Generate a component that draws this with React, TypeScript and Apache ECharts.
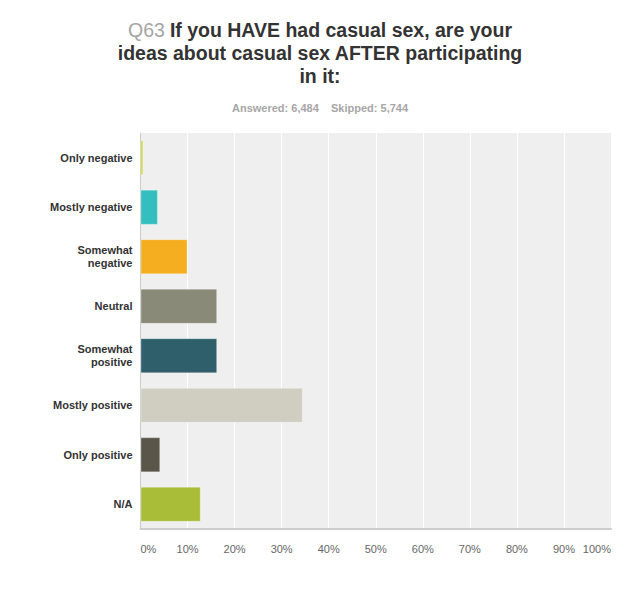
import React, { useEffect, useRef } from "react";
import * as echarts from "echarts";

const categories = [
  "Only negative",
  "Mostly negative",
  "Somewhat\nnegative",
  "Neutral",
  "Somewhat\npositive",
  "Mostly positive",
  "Only positive",
  "N/A",
];
const values = [0.6, 3.7, 10.0, 16.3, 16.3, 34.5, 4.2, 12.8];
const colors = [
  "#cfd832",
  "#33bfc0",
  "#f5ae1f",
  "#8a8a78",
  "#2f5f6b",
  "#d0cec0",
  "#5a574a",
  "#a9bd38",
];
const xTicks = [0, 10, 20, 30, 40, 50, 60, 70, 80, 90, 100];

export default function App() {
  const ref = useRef<HTMLDivElement>(null);
  useEffect(() => {
    if (!ref.current) return;
    const chart = echarts.init(ref.current, undefined, { renderer: "svg" });
    chart.setOption({
      animation: false,
      backgroundColor: "#ffffff",
      textStyle: { fontFamily: "Liberation Sans, Arial, sans-serif" },
      title: [
        {
          left: "center",
          top: 5,
          text:
            "{q|Q63} {b|If you HAVE had casual sex, are your}\n{b|ideas about casual sex AFTER participating}\n{b|in it:}",
          textStyle: {
            rich: {
              q: {
                fontSize: 19.5,
                color: "#a6a6a6",
                fontWeight: "normal",
                lineHeight: 23,
                fontFamily: "Liberation Sans, Arial, sans-serif",
              },
              b: {
                fontSize: 19.5,
                color: "#333333",
                fontWeight: "bold",
                lineHeight: 23,
                fontFamily: "Liberation Sans, Arial, sans-serif",
              },
            },
          },
        },
        {
          left: "center",
          top: 89,
          text: "Answered: 6,484    Skipped: 5,744",
          textStyle: {
            fontSize: 11,
            color: "#a6a6a6",
            fontWeight: "bold",
            fontFamily: "Liberation Sans, Arial, sans-serif",
          },
        },
      ],
      grid: {
        left: 132.5,
        right: 21,
        top: 125,
        bottom: 62,
        containLabel: false,
        show: true,
        backgroundColor: "#efefef",
        borderWidth: 0,
      },
      xAxis: {
        type: "value",
        min: 0,
        max: 100,
        interval: 10,
        axisLine: { show: true, lineStyle: { color: "#cccccc", width: 2 } },
        axisTick: { show: false },
        splitLine: { show: true, lineStyle: { color: "#ffffff", width: 1 } },
        axisLabel: {
          formatter: (v: number) => (xTicks.includes(v) ? v + "%" : ""),
          color: "#666666",
          fontSize: 11,
          margin: 14,
          alignMinLabel: "left",
          alignMaxLabel: "right",
        },
      },
      yAxis: {
        type: "category",
        data: categories,
        inverse: true,
        axisLine: { show: true, lineStyle: { color: "#cccccc", width: 1 } },
        axisTick: { show: false },
        splitLine: { show: false },
        axisLabel: {
          color: "#333333",
          fontSize: 11,
          fontWeight: "bold",
          margin: 8,
          lineHeight: 13,
        },
      },
      series: [
        {
          type: "bar",
          data: values.map((v, i) => ({
            value: v,
            itemStyle: { color: colors[i] },
          })),
          barCategoryGap: "29%",
          itemStyle: { borderColor: "rgba(255,255,255,0.3)", borderWidth: 1 },
        },
      ],
    });
    return () => chart.dispose();
  }, []);
  return <div ref={ref} style={{ width: 624, height: 583 }} />;
}
